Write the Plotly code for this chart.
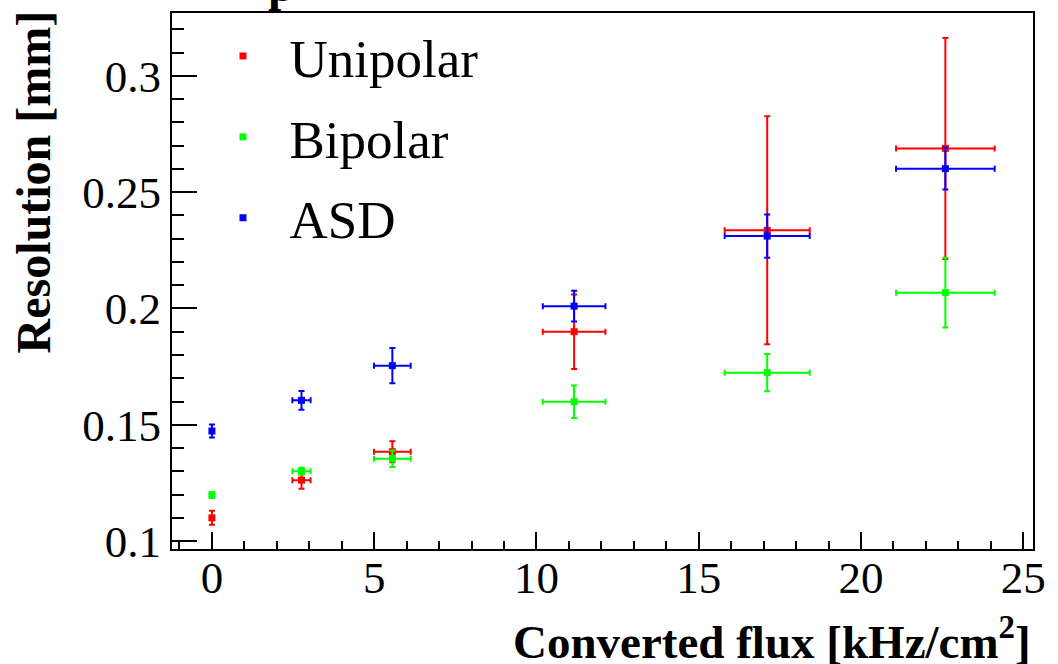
import plotly.graph_objects as go

# ---- data ----
flux = [0.0, 2.76, 5.56, 11.16, 17.11, 22.6]
flux_err = [0.0, 0.28, 0.565, 0.965, 1.31, 1.52]

unipolar = [0.110, 0.1262, 0.1384, 0.1900, 0.2336, 0.2688]
unipolar_err = [0.003, 0.0037, 0.0045, 0.016, 0.049, 0.0475]

bipolar = [0.1198, 0.1300, 0.1354, 0.1599, 0.1724, 0.2068]
bipolar_err = [0.0012, 0.0015, 0.0035, 0.007, 0.008, 0.015]

asd = [0.1473, 0.1605, 0.1754, 0.2010, 0.2311, 0.2601]
asd_err = [0.0028, 0.004, 0.0076, 0.0066, 0.0093, 0.009]

series_names = ["Unipolar", "Bipolar", "ASD"]
series_colors = ["#ff0000", "#00ff00", "#0000ff"]

x_tickvals = [0, 5, 10, 15, 20, 25]
x_ticktext = ["0", "5", "10", "15", "20", "25"]
y_tickvals = [0.1, 0.15, 0.2, 0.25, 0.3]
y_ticktext = ["0.1", "0.15", "0.2", "0.25", "0.3"]

x_title = "<b>Converted flux [kHz/cm<sup>2</sup>]</b>"
y_title = "<b>Resolution [mm]</b>"

SERIF = "Liberation Serif, Times New Roman, serif"

fig = go.Figure()
for name, color, ys, yerr in zip(series_names, series_colors,
                                 [unipolar, bipolar, asd],
                                 [unipolar_err, bipolar_err, asd_err]):
    fig.add_trace(go.Scatter(
        x=flux, y=ys, mode="markers", name="\u00a0\u00a0" + name,
        legendgroup=name,
        marker=dict(symbol="square", size=7, color=color),
        error_y=dict(type="data", array=yerr, visible=True, color=color,
                     thickness=2, width=3),
        error_x=dict(type="data", array=flux_err, visible=True, color=color,
                     thickness=2, width=3),
    ))

fig.update_layout(
    width=1058, height=664,
    margin=dict(l=172, r=25, t=13, b=115),
    paper_bgcolor="white", plot_bgcolor="white",
    font=dict(family=SERIF, color="black"),
    showlegend=True,
    legend=dict(x=51 / 861, y=1.0 - 2 / 536, xanchor="left", yanchor="top",
                bgcolor="rgba(0,0,0,0)", borderwidth=0,
                font=dict(family=SERIF, size=53, color="black"),
                traceorder="grouped", tracegroupgap=9),
    xaxis=dict(range=[-1.23, 25.3], tickmode="array", tickvals=x_tickvals,
               ticktext=x_ticktext, ticks="inside", ticklen=17, tickwidth=2,
               tickcolor="black", showline=True, linewidth=2, linecolor="black",
               mirror=True, showgrid=False, zeroline=False,
               ticklabelstandoff=-12,
               tickfont=dict(family=SERIF, size=45, color="black"),
               minor=dict(ticks="inside", ticklen=8, tickwidth=2, tickcolor="black",
                          tickmode="linear", tick0=0, dtick=1, showgrid=False)),
    yaxis=dict(range=[0.0966, 0.327], tickmode="array", tickvals=y_tickvals,
               ticktext=y_ticktext, ticks="inside", ticklen=25, tickwidth=2,
               tickcolor="black", showline=True, linewidth=2, linecolor="black",
               mirror=True, showgrid=False, zeroline=False,
               tickfont=dict(family=SERIF, size=45, color="black"),
               minor=dict(ticks="inside", ticklen=12, tickwidth=2, tickcolor="black",
                          tickmode="linear", tick0=0.1, dtick=0.01, showgrid=False)),
    annotations=[
        dict(text=x_title, xref="paper", yref="paper", x=1, y=0,
             xanchor="right", yanchor="middle", yshift=-89, showarrow=False,
             font=dict(family=SERIF, size=47, color="black")),
        dict(text=y_title, xref="paper", yref="paper", x=0, y=1,
             xanchor="center", yanchor="top", xshift=-139, yshift=4,
             textangle=-90, showarrow=False,
             font=dict(family=SERIF, size=48, color="black")),
        dict(text="<b>p</b>", xref="paper", yref="paper", x=(281 - 172) / 861, y=1,
             xanchor="center", yanchor="bottom", yshift=0, showarrow=False,
             font=dict(family=SERIF, size=48, color="black")),
    ],
)

fig.write_html("out.html")
